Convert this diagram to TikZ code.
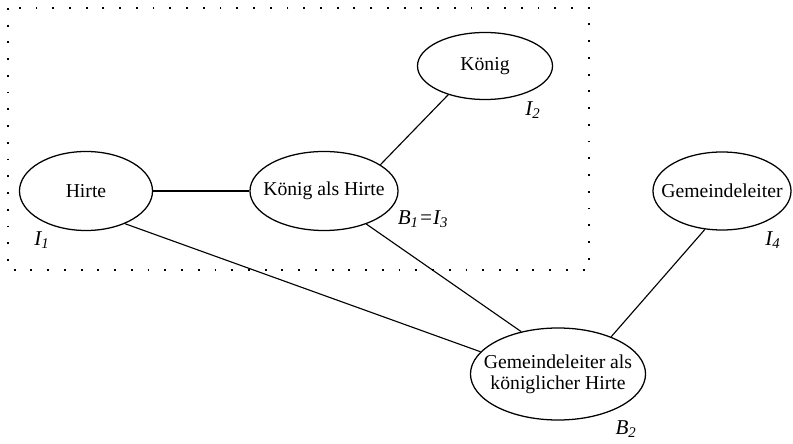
\documentclass[tikz,border=0pt]{standalone}
\usepackage{fontspec}
\setmainfont{Liberation Serif}
\usetikzlibrary{shapes.geometric}

\begin{document}
\begin{tikzpicture}[x=0.025cm, y=-0.025cm,
    blob/.style={ellipse, draw, line width=0.9pt, inner sep=0pt,
        label={[align=center, font=\fontsize{14}{15}\selectfont]center:#1}},
    tag/.style={font=\fontsize{15}{17}\selectfont\itshape, inner sep=0pt},
    link/.style={line width=0.8pt},
    fence/.style={line width=1.3pt, dash pattern=on 1.3pt off 10.6pt}]
    \useasboundingbox (0,0) rectangle (793,444);

    % Dotted frame
    \draw[fence] (8,8) rectangle (589,270);

    % Concepts
    \node[blob=Hirte, minimum width=3.325cm, minimum height=1.975cm] (hirte) at (86,191) {};
    \node[blob=König als Hirte, minimum width=3.7cm, minimum height=1.975cm] (kah) at (324,191) {};
    \node[blob=König, minimum width=3.375cm, minimum height=1.675cm] (koenig) at (485,66) {};
    \node[blob=Gemeindeleiter, minimum width=3.45cm, minimum height=1.95cm] (gem) at (722,191) {};
    \node[blob={Gemeindeleiter als\\königlicher Hirte}, minimum width=4.375cm, minimum height=2.3cm] (gkh) at (558,374) {};

    % Labels
    \node[tag] (i1) at (42,240) {I\textsubscript{1}};
    \node[tag] (i2) at (533,110) {I\textsubscript{2}};
    \node[tag] (b1) at (423,219) {B\textsubscript{1}=I\textsubscript{3}};
    \node[tag] (i4) at (773,240) {I\textsubscript{4}};
    \node[tag] (b2) at (626,429) {B\textsubscript{2}};

    % Connections
    \draw[link] (hirte) -- (kah);
    \draw[link] (kah.25) -- (koenig.218);
    \draw[link] (hirte.320) -- (gkh.164);
    \draw[link] (kah.322) -- (gkh.131);
    \draw[link] (gem.246) -- (gkh.35);
\end{tikzpicture}
\end{document}
